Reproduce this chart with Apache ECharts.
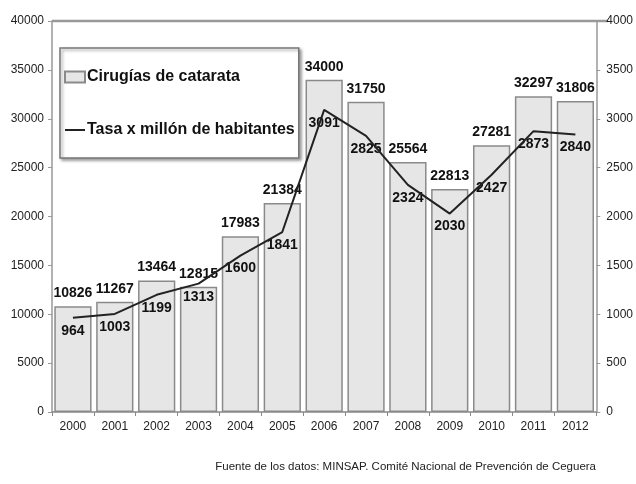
<!DOCTYPE html>
<html><head><meta charset="utf-8">
<script src="https://cdn.jsdelivr.net/npm/echarts@6/dist/echarts.min.js"></script>
<style>html,body{margin:0;padding:0;background:#fff}#c{width:636px;height:484px}</style>
</head><body><div id="c"></div>
<script>
const years = ['2000','2001','2002','2003','2004','2005','2006','2007','2008','2009','2010','2011','2012'];
const cirugias = [10826,11267,13464,12815,17983,21384,34000,31750,25564,22813,27281,32297,31806];
const tasa = [964,1003,1199,1313,1600,1841,3091,2825,2324,2030,2427,2873,2840];
const leftTicks = {min:0,max:40000,interval:5000};
const rightTicks = {min:0,max:4000,interval:500};

const chart = echarts.init(document.getElementById('c'), null, {renderer:'canvas'});
const F = 'Liberation Sans, Arial, sans-serif';
const plain = v => String(v);
chart.setOption({
  animation:false,
  backgroundColor:'#fff',
  textStyle:{fontFamily:F},
  grid:{left:52,right:28,top:21,bottom:72,show:false},
  title:{text:'Fuente de los datos: MINSAP. Comité Nacional de Prevención de Ceguera',right:35,bottom:6,
    textStyle:{fontSize:11.5,fontWeight:'normal',color:'#222',fontFamily:F}},
  legend:{orient:'vertical',left:60,top:48,padding:[21,4,20,4],itemGap:37,
    backgroundColor:'#fff',borderColor:'#777',borderWidth:1.5,
    shadowColor:'rgba(0,0,0,0.35)',shadowBlur:3,shadowOffsetX:2,shadowOffsetY:2,
    itemWidth:20,itemHeight:11,
    textStyle:{fontSize:16,fontWeight:'bold',color:'#111',fontFamily:F,padding:[0,0,0,-3]},
    data:[{name:'Cirugías de catarata',icon:'rect'},
          {name:'Tasa x millón de habitantes',icon:'path://M0,0h0.01v11h-0.01z M0,4.5h20v2h-20z'}]},
  xAxis:{type:'category',data:years,
    axisLine:{lineStyle:{color:'#888',width:1.5}},
    axisTick:{show:true,length:4,lineStyle:{color:'#888'}},
    axisLabel:{fontSize:12,color:'#222',margin:9}},
  yAxis:[
    {type:'value',...leftTicks,position:'left',
      axisLine:{show:true,lineStyle:{color:'#999',width:1.5}},
      axisTick:{show:true,length:4,lineStyle:{color:'#999'}},
      splitLine:{show:false},
      axisLabel:{fontSize:12,color:'#222',margin:8,formatter:plain}},
    {type:'value',...rightTicks,position:'right',
      axisLine:{show:true,lineStyle:{color:'#999',width:1.5}},
      axisTick:{show:true,length:4,lineStyle:{color:'#999'}},
      splitLine:{show:false},
      axisLabel:{fontSize:12,color:'#222',margin:10,formatter:plain}}
  ],
  graphic:[{type:'line',shape:{x1:52,y1:21,x2:608,y2:21},style:{stroke:'#999',lineWidth:2.5}}],
  series:[
    {name:'Cirugías de catarata',type:'bar',data:cirugias,yAxisIndex:0,barCategoryGap:'11%',
      itemStyle:{color:'#e6e6e6',borderColor:'#8a8a8a',borderWidth:1.5},
      label:{show:true,position:'top',distance:6,fontSize:14,fontWeight:'bold',color:'#111',fontFamily:F}},
    {name:'Tasa x millón de habitantes',type:'line',data:tasa,yAxisIndex:1,
      symbol:'none',lineStyle:{color:'#222',width:2},itemStyle:{color:'#222'}},
    {name:'tasaLabels',type:'scatter',data:tasa,yAxisIndex:1,symbolSize:0,
      itemStyle:{color:'#222',opacity:1},silent:true,
      label:{show:true,position:'bottom',distance:6,fontSize:14,fontWeight:'bold',color:'#111',fontFamily:F,
        formatter:p=>String(p.value)}}
  ]
});
</script></body></html>
